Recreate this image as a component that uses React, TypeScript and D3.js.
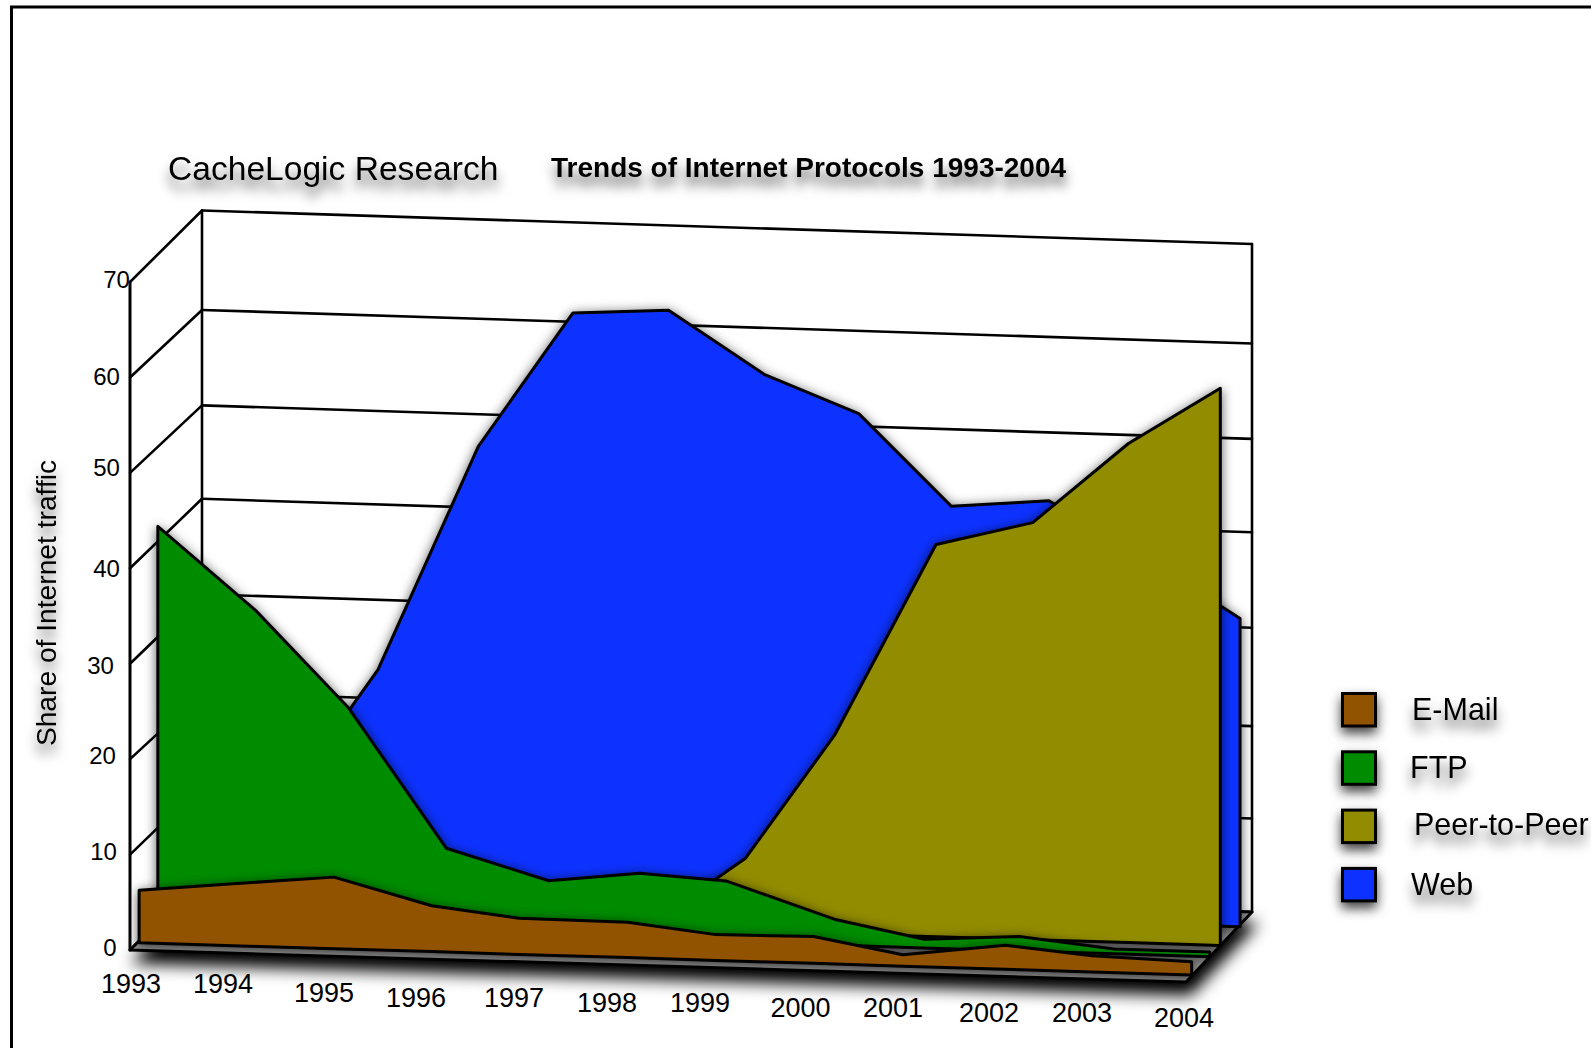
import React from "react";
import * as d3 from "d3";

const years = [1993, 1994, 1995, 1996, 1997, 1998, 1999, 2000, 2001, 2002, 2003, 2004];
const yTicks = [0, 10, 20, 30, 40, 50, 60, 70];

const emailValues = [5.5, 6.5, 7.5, 4.8, 3.8, 3.7, 2.7, 2.8, 1.2, 2.5, 1.7, 1.4];
const ftpValues = [41.7, 33.2, 23.3, 8.9, 5.8, 6.9, 6.4, 2.7, 0.9, 1.5, 0.5, 0.5];
const p2pValues = [0, 0, 0, 0, 0, 0, 7.6, 20.8, 41.1, 43.7, 52.3, 58.4];
const webValues = [2, 9.7, 24.1, 47.8, 62.1, 62.7, 56.3, 52.5, 43.1, 44, 38.6, 32.3];

// The original's vertices are not exactly on the year grid: drift, in years
const emailDrift = [0.02, 0, 0.05, 0.07, -0.02, 0.11, 0.03, 0.05, -0.02, 0.05, -0.05, -0.01];
const ftpDrift = [0.02, 0.04, 0.01, 0.03, 0.1, 0.05, -0.05, 0.08, 0.02, 0.01, 0, 0];
const p2pDrift = [0, 0, 0, 0, 0, 0, 0.04, -0.03, 0.03, 0.04, 0.04, 0];
const webDrift = [0, 0, 0, 0.05, 0.04, 0.04, 0.04, 0.03, 0, 0.02, 0, 0.02];

const seriesNames = ["Web", "Peer-to-Peer", "FTP", "E-Mail"];
const seriesValues = [webValues, p2pValues, ftpValues, emailValues];
const seriesDrift = [webDrift, p2pDrift, ftpDrift, emailDrift];
const seriesColors = ["#0f32ff", "#928c00", "#008c00", "#925200"];
const seriesDepths = [0.79, 0.52, 0.36, 0.1];

const legendNames = ["E-Mail", "FTP", "Peer-to-Peer", "Web"];
const legendColors = ["#925200", "#008c00", "#928c00", "#0f32ff"];
const legendTextX = [1412, 1410, 1414, 1411];
const legendTextY = [720, 778, 835, 895];

// hand-placed label and gridline offsets of the original drawing
const yearNudgeX = [1, -3, 2, -2, 0, -3, -6, -1.5, -5, -5, -8, -2];
const yearNudgeY = [43, 40, 46, 48, 45, 47.5, 44.5, 46.6, 43.7, 45.8, 42.9, 45];
const tickNudgeX = [-20, -26.5, -27.5, -29.5, -23.5, -23.5, -23.5, -13.5];
const tickNudgeY = [6, 5.4, 5, 10.2, 8.3, 2.7, 7.4, 6];
const backGridNudge = [0, 2, 5, 2, 2, 4, 4, 0];

const W = 1591;
const H = 1048;
const FONT = "'Liberation Sans', Arial, sans-serif";

// Oblique projection: t = year, v = percent, d = depth into the box
const tScale = d3.scaleLinear().domain([1993, 2004]).range([0, 1]);
const frontX = d3.scaleLinear().domain([0, 1]).range([130, 1186]);
const backX = d3.scaleLinear().domain([0, 1]).range([202, 1252]);
const frontY = d3.scaleLinear().domain([0, 1]).range([950, 982]);
const backY = d3.scaleLinear().domain([0, 1]).range([878.5, 912]);
const heightScale = d3.scaleLinear().domain([0, 70]).range([0, 668]);

const px = (year: number, d: number) => {
  const t = tScale(year);
  return frontX(t) + (backX(t) - frontX(t)) * d;
};
const py = (year: number, v: number, d: number) => {
  const t = tScale(year);
  return frontY(t) + (backY(t) - frontY(t)) * d - heightScale(v);
};

const seg = (a: [number, number], b: [number, number]) => d3.line()([a, b]) as string;

const floorPath =
  (d3.line()([
    [px(1993, 0), py(1993, 0, 0)],
    [px(2004, 0), py(2004, 0, 0)],
    [px(2004, 1), py(2004, 0, 1)],
    [px(1993, 1), py(1993, 0, 1)],
  ]) as string) + "Z";

const Shadow = ({ id, dx, dy, std, op }: { id: string; dx: number; dy: number; std: number; op: number }) => (
  <filter id={id} filterUnits="userSpaceOnUse" x={0} y={0} width={W} height={H}>
    <feDropShadow dx={dx} dy={dy} stdDeviation={std} floodColor="#000" floodOpacity={op} />
  </filter>
);

export default function App() {
  return (
    <svg
      width={W}
      height={H}
      viewBox={`0 0 ${W} ${H}`}
      style={{ position: "absolute", left: 0, top: 0, display: "block", background: "#fff" }}
      fontFamily={FONT}
    >
      <defs>
        <Shadow id="textShadow" dx={0} dy={10} std={6} op={0.6} />
        <Shadow id="seriesShadow" dx={0} dy={2} std={6} op={0.65} />
        <Shadow id="floorShadow" dx={4} dy={12} std={8} op={1} />
        <Shadow id="boxShadow" dx={0} dy={6} std={6} op={0.75} />
      </defs>

      <rect x={11.5} y={7} width={1800} height={1300} fill="#fff" stroke="#000" strokeWidth={3} />

      <g fill="none" stroke="#000" strokeWidth={2.6} strokeLinecap="round">
        {yTicks.map((v, i) => (
          <g key={v}>
            <path
              d={seg(
                [px(1993, 1), py(1993, v, 1) + backGridNudge[i]],
                [px(2004, 1), py(2004, v, 1) + backGridNudge[i]]
              )}
            />
            <path d={seg([px(1993, 0), py(1993, v, 0)], [px(1993, 1), py(1993, v, 1) + backGridNudge[i]])} />
          </g>
        ))}
        <path d={seg([px(1993, 1), py(1993, 0, 1)], [px(1993, 1), py(1993, 70, 1)])} />
        <path d={seg([px(2004, 1), py(2004, 0, 1)], [px(2004, 1), py(2004, 70, 1)])} />
        <path d={seg([px(1993, 0), py(1993, 0, 0)], [px(1993, 0), py(1993, 70, 0)])} strokeWidth={3} />
      </g>

      <path d={floorPath} fill="#989898" stroke="#000" strokeWidth={3} strokeLinejoin="round" filter="url(#floorShadow)" />

      {seriesNames.map((name, s) => {
        const d = seriesDepths[s];
        const drift = seriesDrift[s];
        const area = d3
          .area<number>()
          .x((_, i) => px(years[i] + drift[i], d))
          .y0((_, i) => py(years[i], 0, d))
          .y1((v, i) => py(years[i], v, d));
        return (
          <path
            key={name}
            d={area(seriesValues[s]) as string}
            fill={seriesColors[s]}
            stroke="#000"
            strokeWidth={3}
            strokeLinejoin="round"
            filter="url(#seriesShadow)"
          />
        );
      })}

      <g fontSize={24} fill="#000" textAnchor="middle">
        {yTicks.map((v, i) => (
          <text key={v} x={frontX(0) + tickNudgeX[i]} y={py(1993, v, 0) + tickNudgeY[i]}>
            {v}
          </text>
        ))}
      </g>
      <g fontSize={27} fill="#000" textAnchor="middle">
        {years.map((y, i) => (
          <text key={y} x={px(y, 0) + yearNudgeX[i]} y={py(y, 0, 0) + yearNudgeY[i]}>
            {y}
          </text>
        ))}
      </g>

      <g filter="url(#textShadow)" fill="#000">
        <text x={168} y={180} fontSize={33.6}>CacheLogic Research</text>
        <text x={551} y={177} fontSize={28} fontWeight="bold">Trends of Internet Protocols 1993-2004</text>
        <text transform="translate(56,603) rotate(-90)" textAnchor="middle" fontSize={28.2}>
          Share of Internet traffic
        </text>
      </g>

      {legendNames.map((name, i) => (
        <g key={name}>
          <rect
            x={1342.5}
            y={693.5 + i * 58.3}
            width={33}
            height={32.5}
            fill={legendColors[i]}
            stroke="#000"
            strokeWidth={3}
            filter="url(#boxShadow)"
          />
          <text x={legendTextX[i]} y={legendTextY[i]} fontSize={30.5} fill="#000" filter="url(#textShadow)">
            {name}
          </text>
        </g>
      ))}
    </svg>
  );
}
